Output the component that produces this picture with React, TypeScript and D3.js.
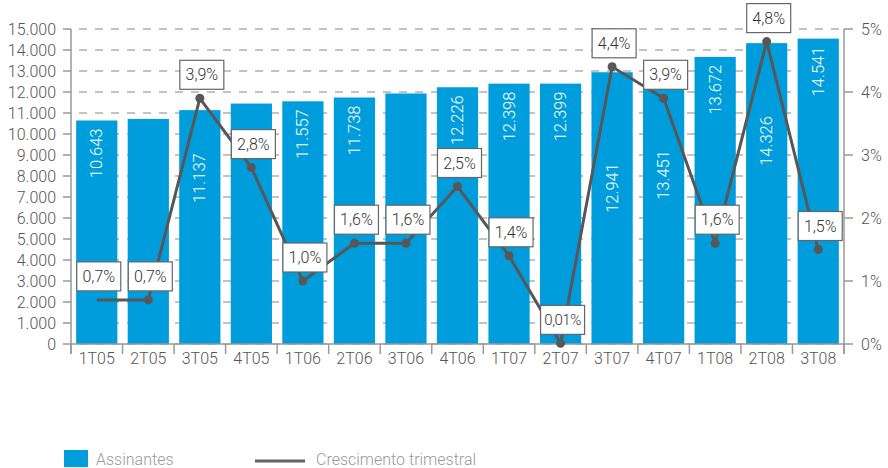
import React from "react";
import * as d3 from "d3";

const categories = ["1T05","2T05","3T05","4T05","1T06","2T06","3T06","4T06","1T07","2T07","3T07","4T07","1T08","2T08","3T08"];
const assinantes = [10643, 10717, 11137, 11449, 11557, 11738, 11930, 12226, 12398, 12399, 12941, 13451, 13672, 14326, 14541];
const crescimento = [0.7, 0.7, 3.9, 2.8, 1.0, 1.6, 1.6, 2.5, 1.4, 0.01, 4.4, 3.9, 1.6, 4.8, 1.5];
const crescimentoLabels = ["0,7%","0,7%","3,9%","2,8%","1,0%","1,6%","1,6%","2,5%","1,4%","0,01%","4,4%","3,9%","1,6%","4,8%","1,5%"];
const hiddenValueLabels = ["2T05", "4T05", "3T06"];
const leftTicks = d3.range(0, 15001, 1000);
const rightTicks = [0, 1, 2, 3, 4, 5];

// label centres (in subscriber units) for the bars whose value label is moved down
const movedLabelCenter: Record<string, number> = { "3T05": 7900, "3T07": 7430, "4T07": 8050, "2T08": 9670 };

const W = 888, H = 468;
const BLUE = "#009ddc";
const LINE = "#575757";
const FONT = "Roboto, 'Liberation Sans', Arial, sans-serif";

const fmt = d3.formatLocale({ decimal: ",", thousands: ".", grouping: [3], currency: ["", ""] }).format(",d");

export default function App() {
  const left = 71, right = 844, top = 29, bottom = 344;
  const x = d3.scaleBand<string>().domain(categories).range([left, right]).paddingInner(0.2).paddingOuter(0.1);
  const y = d3.scaleLinear().domain([0, 15000]).range([bottom, top]);
  const y2 = d3.scaleLinear().domain([0, 5]).range([bottom, top]);
  const bw = x.bandwidth();
  const step = x.step();
  const cx = (c: string) => (x(c) as number) + bw / 2;

  const pts: [number, number][] = categories.map((c, i) => [cx(c), y2(crescimento[i])]);
  const line = d3.line()(pts) as string;

  return (
    <svg width={W} height={H} style={{ position: "absolute", left: 0, top: 0, background: "#fff" }} fontFamily={FONT} fontWeight={300}>
      {/* grid */}
      {leftTicks.map((t) => (
        <g key={"g" + t}>
          <line x1={left} x2={right} y1={y(t)} y2={y(t)} stroke="#b0b0b0" strokeWidth={1.5} strokeDasharray="8,8" strokeDashoffset={8} />
          <line x1={left - 8} x2={left} y1={y(t)} y2={y(t)} stroke="#999" strokeWidth={1.5} />
          <text x={56} y={y(t)} textAnchor="end" dominantBaseline="central" fontSize={16} fill="#555">{fmt(t)}</text>
        </g>
      ))}
      {/* bars */}
      {categories.map((c, i) => (
        <rect key={"b" + c} x={x(c)} y={y(assinantes[i])} width={bw} height={bottom - y(assinantes[i])} fill={BLUE} />
      ))}
      {/* bar value labels */}
      {categories.map((c, i) => {
        if (hiddenValueLabels.includes(c)) return null;
        const moved = movedLabelCenter[c];
        if (moved !== undefined) {
          return (
            <text key={"v" + c} transform={`translate(${cx(c)},${y(moved)}) rotate(-90)`} textAnchor="middle" dominantBaseline="central" fontSize={16.5} fill="#fff">{fmt(assinantes[i])}</text>
          );
        }
        return (
          <text key={"v" + c} transform={`translate(${cx(c)},${y(assinantes[i]) + 8}) rotate(-90)`} textAnchor="end" dominantBaseline="central" fontSize={16.5} fill="#fff">{fmt(assinantes[i])}</text>
        );
      })}
      {/* axes */}
      <line x1={left} x2={left} y1={top} y2={bottom + 10} stroke="#999" strokeWidth={1.5} />
      <line x1={right} x2={right} y1={top} y2={bottom + 10} stroke="#999" strokeWidth={1.5} />
      <line x1={left} x2={right} y1={bottom} y2={bottom} stroke="#999" strokeWidth={1.5} />
      {d3.range(categories.length + 1).map((i) => (
        <line key={"xt" + i} x1={left + i * step} x2={left + i * step} y1={bottom} y2={bottom + 10} stroke="#999" strokeWidth={1.5} />
      ))}
      {categories.map((c) => (
        <text key={"xl" + c} x={cx(c)} y={358} textAnchor="middle" dominantBaseline="central" fontSize={16} fill="#555">{c}</text>
      ))}
      {rightTicks.map((t) => (
        <g key={"r" + t}>
          <line x1={right} x2={right + 9} y1={y2(t)} y2={y2(t)} stroke="#999" strokeWidth={1.5} />
          <text x={861} y={y2(t)} dominantBaseline="central" fontSize={16} fill="#555">{t + "%"}</text>
        </g>
      ))}
      {/* growth line */}
      <path d={line} fill="none" stroke={LINE} strokeWidth={3} />
      {pts.map((p, i) => (i === 0 ? null : <circle key={"p" + i} cx={p[0]} cy={p[1]} r={4.5} fill={LINE} />))}
      {pts.map((p, i) => {
        const bx = p[0] + 2, by = p[1] - 9;
        return (
          <g key={"lb" + i}>
            <rect x={bx - 22} y={by - 29} width={44} height={29} fill="#fff" stroke="#666" strokeWidth={1.2} />
            <text x={bx} y={by - 14.5} textAnchor="middle" dominantBaseline="central" fontSize={crescimentoLabels[i].length > 4 ? 15 : 16} fill="#333" letterSpacing={crescimentoLabels[i].length > 4 ? -0.5 : 0}>{crescimentoLabels[i]}</text>
          </g>
        );
      })}
      {/* legend */}
      <rect x={64} y={450} width={24} height={17} fill={BLUE} />
      <text x={96} y={459} dominantBaseline="central" fontSize={16} fill="#999">Assinantes</text>
      <line x1={255} x2={305} y1={461} y2={461} stroke="#666" strokeWidth={3} />
      <text x={316} y={459} dominantBaseline="central" fontSize={16} fill="#999">Crescimento trimestral</text>
    </svg>
  );
}
